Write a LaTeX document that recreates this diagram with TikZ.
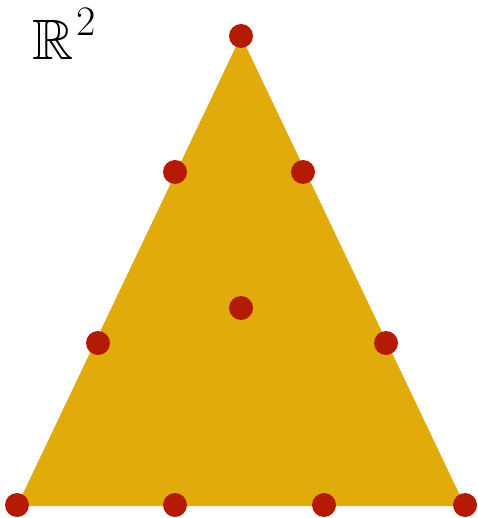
\documentclass[tikz,border=0pt]{standalone}
\usepackage{amssymb}
\definecolor{gold}{HTML}{E1AB0C}
\definecolor{dotred}{HTML}{B41A04}
\begin{document}
\begin{tikzpicture}[x=1pt,y=-1pt,
  pt/.style={circle,fill=dotred,inner sep=0pt,minimum size=24pt}]
\useasboundingbox (0,0) rectangle (477,518);
\coordinate (A) at (17,506);
\coordinate (B) at (465,506);
\coordinate (C) at (241,36);
\fill[gold] (A) -- (B) -- (C) -- cycle;
\node[pt] (p1) at (241,36) {};
\node[pt] (p2) at (175,172) {};
\node[pt] (p3) at (303,172) {};
\node[pt] (p4) at (241,308) {};
\node[pt] (p5) at (98,343) {};
\node[pt] (p6) at (386,343) {};
\node[pt] (p7) at (17,505) {};
\node[pt] (p8) at (175,505) {};
\node[pt] (p9) at (324,505) {};
\node[pt] (p10) at (465,505) {};
\node[anchor=base west,inner sep=0pt,font=\fontsize{57}{60}\selectfont] (lab) at (32,60) {$\mathbb{R}$\kern3pt\raisebox{24pt}{\fontsize{42}{42}\selectfont 2}};
\end{tikzpicture}
\end{document}
